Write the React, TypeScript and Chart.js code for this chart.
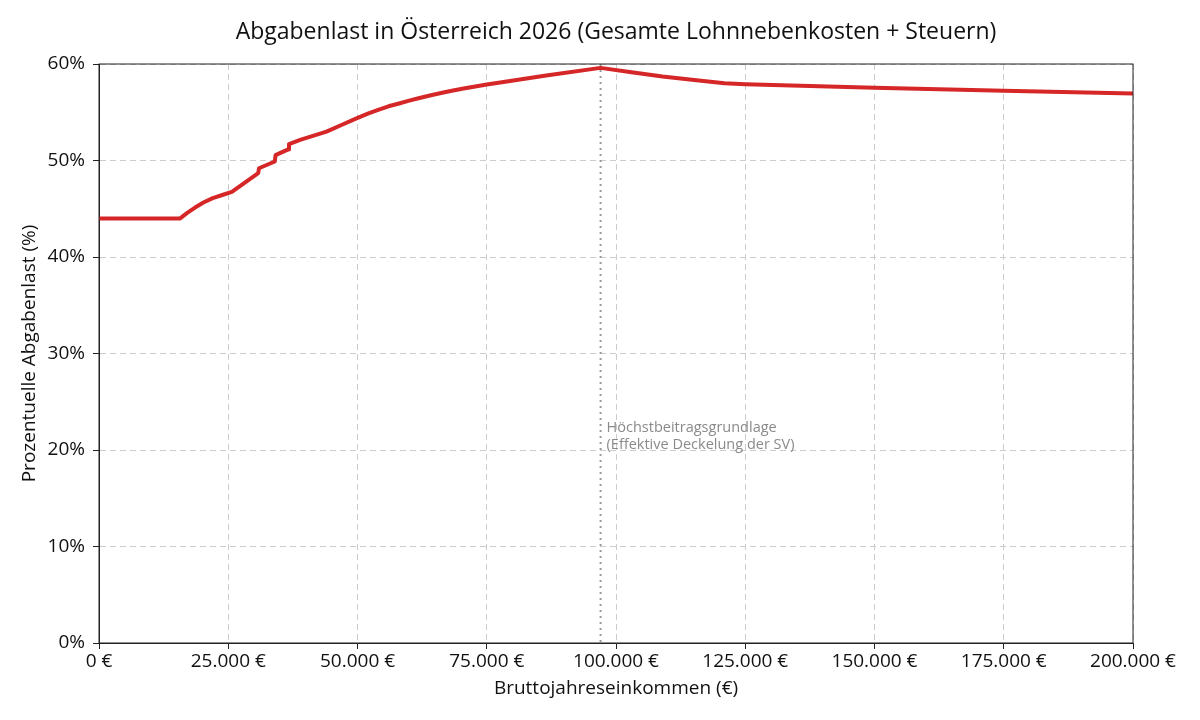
import React, { useEffect, useRef } from "react";
import { Chart, registerables } from "chart.js";

Chart.register(...registerables);

const incomeEUR = [
  0, 15700, 17000, 18500, 20200, 22000, 24000, 25700, 30800, 30950, 34000, 34150, 36600, 36750,
  38900, 44000, 47000, 49800, 52000, 54000, 56000, 58200, 60000, 62000, 64000, 66600, 68500,
  70500, 72500, 75000, 77600, 86500, 97000, 103000, 109000, 116000, 121000, 125000, 150000,
  175000, 200000,
];
const burdenPct = [
  44.0, 44.0, 44.55, 45.1, 45.65, 46.1, 46.45, 46.75, 48.7, 49.2, 49.9, 50.55, 51.15, 51.7,
  52.13, 52.99, 53.7, 54.37, 54.85, 55.25, 55.62, 55.93, 56.2, 56.48, 56.74, 57.05, 57.26,
  57.46, 57.65, 57.87, 58.09, 58.8, 59.6, 59.15, 58.7, 58.3, 58.0, 57.9, 57.55,
  57.24, 56.95,
];
const hbglEUR = 97020;
const xTickStep = 25000;
const yTickStep = 10;
const titleText = "Abgabenlast in Österreich 2026 (Gesamte Lohnnebenkosten + Steuern)";
const xTitle = "Bruttojahreseinkommen (€)";
const yTitle = "Prozentuelle Abgabenlast (%)";
const annotationLines = ["Höchstbeitragsgrundlage", "(Effektive Deckelung der SV)"];

const FONT = "'Open Sans', 'Noto Sans', sans-serif";

const fmtEUR = (v: number) =>
  v.toLocaleString("de-DE", { maximumFractionDigits: 0 }) + " €";

export default function App() {
  const ref = useRef<HTMLCanvasElement | null>(null);

  useEffect(() => {
    if (!ref.current) return;
    const extras = {
      id: "extras",
      beforeDatasetsDraw(chart: any) {
        const { ctx, chartArea, scales } = chart;
        const x = scales.x.getPixelForValue(hbglEUR);
        ctx.save();
        ctx.strokeStyle = "#999999";
        ctx.lineWidth = 2;
        ctx.setLineDash([2, 4]);
        ctx.beginPath();
        ctx.moveTo(x, chartArea.top);
        ctx.lineTo(x, chartArea.bottom);
        ctx.stroke();
        ctx.setLineDash([]);
        ctx.fillStyle = "#8a8a8a";
        ctx.font = `14.5px ${FONT}`;
        ctx.textAlign = "left";
        ctx.textBaseline = "middle";
        const y0 = scales.y.getPixelForValue(22.5) + 2;
        annotationLines.forEach((l, i) => ctx.fillText(l, x + 6, y0 + i * 17));
        ctx.restore();
      },
      afterDraw(chart: any) {
        const { ctx, chartArea } = chart;
        ctx.save();
        ctx.strokeStyle = "#222222";
        ctx.lineWidth = 1;
        ctx.strokeRect(chartArea.left, chartArea.top, chartArea.right - chartArea.left, chartArea.bottom - chartArea.top);
        ctx.fillStyle = "#111111";
        ctx.textAlign = "center";
        ctx.textBaseline = "middle";
        ctx.font = `23px ${FONT}`;
        ctx.fillText(titleText, (chartArea.left + chartArea.right) / 2, 32);
        ctx.font = `19px ${FONT}`;
        ctx.fillText(xTitle, (chartArea.left + chartArea.right) / 2, 689);
        ctx.translate(30, (chartArea.top + chartArea.bottom) / 2);
        ctx.rotate(-Math.PI / 2);
        ctx.fillText(yTitle, 0, 0);
        ctx.restore();
      },
    };

    const chart = new Chart(ref.current, {
      type: "line",
      data: {
        datasets: [
          {
            data: incomeEUR.map((x, i) => ({ x, y: burdenPct[i] })),
            borderColor: "#d62728",
            borderWidth: 4,
            pointRadius: 0,
            tension: 0,
            borderJoinStyle: "round",
            fill: false,
          },
        ],
      },
      options: {
        animation: false,
        responsive: true,
        maintainAspectRatio: false,
        layout: { padding: { top: 64, right: 67, left: 0, bottom: 0 } },
        plugins: { legend: { display: false }, title: { display: false }, tooltip: { enabled: false } },
        scales: {
          x: {
            type: "linear",
            min: 0,
            max: 200000,
            afterFit: (s: any) => { s.height = 77; },
            ticks: {
              stepSize: xTickStep,
              callback: (v: any) => fmtEUR(Number(v)),
              color: "#111111",
              font: { family: FONT, size: 19 },
              padding: 1,
              maxRotation: 0,
              autoSkip: false,
            },
            grid: { color: "#cccccc", tickColor: "#222222", tickLength: 6, lineWidth: 1 },
            border: { display: true, color: "#222222", dash: [6, 4] },
          },
          y: {
            min: 0,
            max: 60,
            afterFit: (s: any) => { s.width = 99; },
            ticks: {
              stepSize: yTickStep,
              callback: (v: any) => `${v}%`,
              color: "#111111",
              font: { family: FONT, size: 19 },
              padding: 8,
            },
            grid: { color: "#cccccc", tickColor: "#222222", tickLength: 6, lineWidth: 1 },
            border: { display: true, color: "#222222", dash: [6, 4] },
          },
        },
      },
      plugins: [extras],
    } as any);
    return () => chart.destroy();
  }, []);

  return (
    <div style={{ position: "absolute", left: 0, top: 0, width: 1200, height: 720, background: "#fff" }}>
      <canvas ref={ref} />
    </div>
  );
}
